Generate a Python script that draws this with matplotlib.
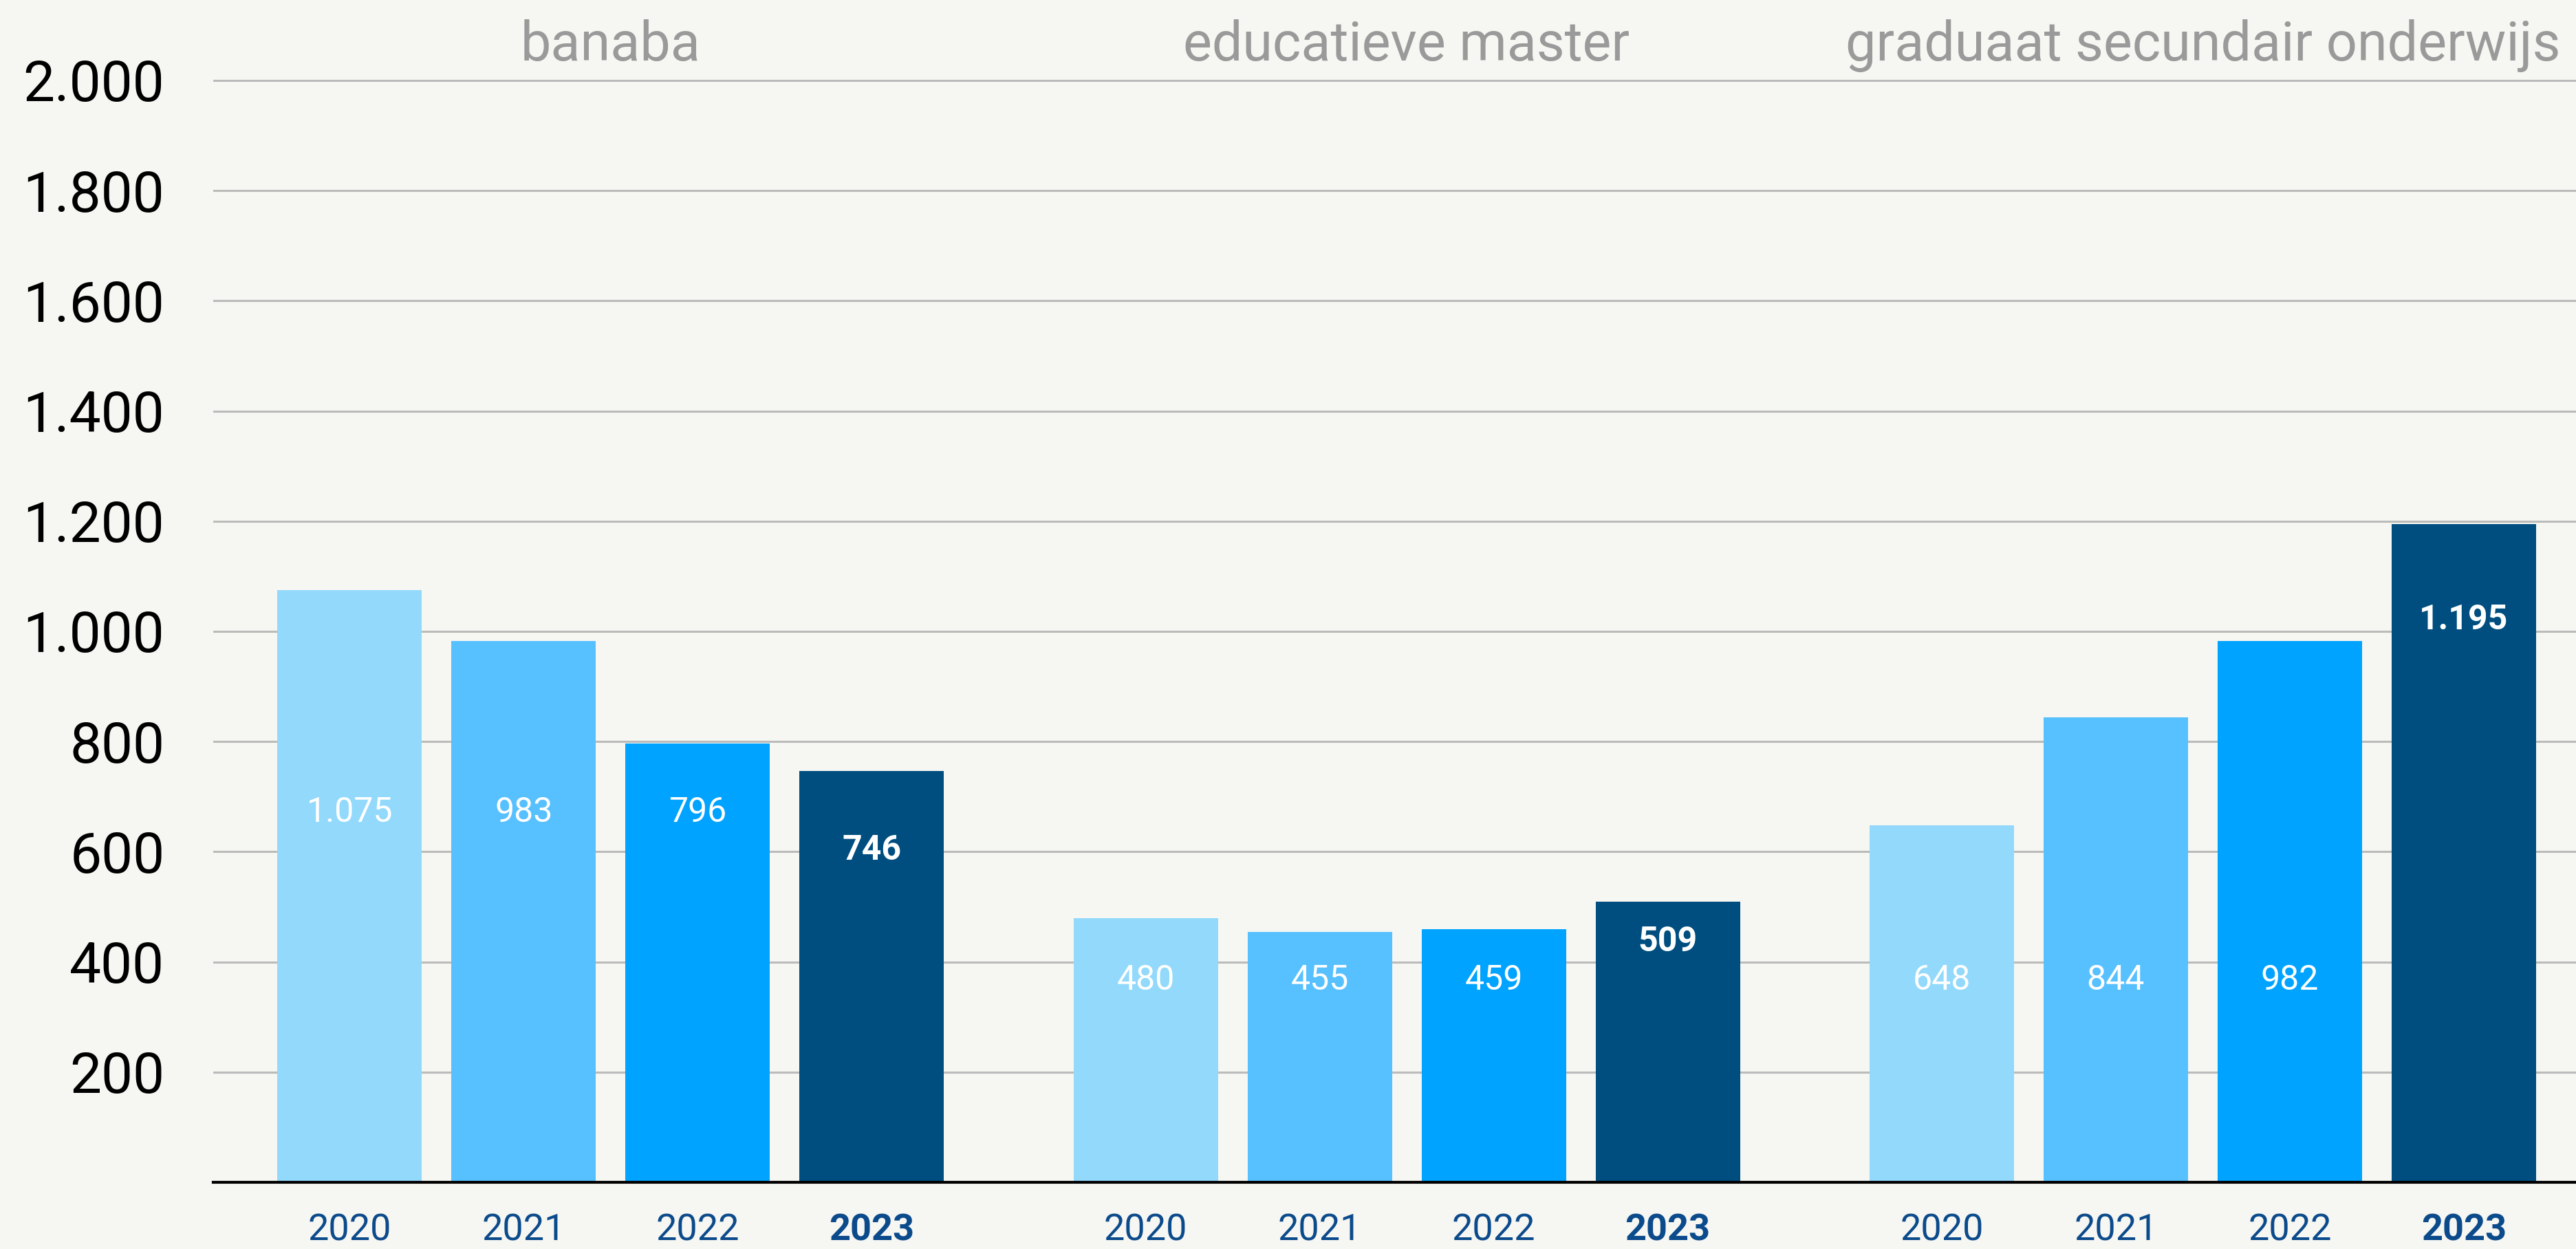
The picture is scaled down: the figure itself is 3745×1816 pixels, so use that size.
import matplotlib
matplotlib.use("Agg")
import matplotlib.pyplot as plt
from matplotlib.ticker import FuncFormatter

# data
groups = ["banaba", "educatieve master", "graduaat secundair onderwijs"]
years = ["2020", "2021", "2022", "2023"]
banaba = [1075, 983, 796, 746]
educatieve_master = [480, 455, 459, 509]
graduaat = [648, 844, 982, 1195]
values = [banaba, educatieve_master, graduaat]

# where the value labels sit inside the bars (data units)
label_y = [[672, 672, 672, 603],
           [367, 367, 367, 436],
           [367, 367, 367, 1021]]

colors = ["#92D9FC", "#57C0FF", "#00A3FF", "#004E80"]
bg = "#F6F6F2"

plt.rcParams["font.family"] = ["Roboto", "DejaVu Sans"]

fig = plt.figure(figsize=(37.45, 18.16), dpi=100)
fig.patch.set_facecolor(bg)
ax = fig.add_axes([0.0828, 0.0534, 1 - 0.0828, 1 - 0.0534])
ax.set_facecolor(bg)

group_step = 4.575
width = 0.83

xticks, xlabels = [], []
for g, (name, vals) in enumerate(zip(groups, values)):
    xs = [g * group_step + i for i in range(len(years))]
    ax.bar(xs, vals, width=width, color=colors, zorder=3)
    for i, (x, v) in enumerate(zip(xs, vals)):
        last = i == len(years) - 1
        txt = f"{v:,}".replace(",", ".")
        ax.text(x, label_y[g][i], txt, ha="center", va="center",
                color="white", fontsize=36,
                fontweight="bold" if last else "normal", zorder=4)
    ax.text(g * group_step + 1.5, 2036, name, ha="center", va="baseline",
            color="#9A9A9A", fontsize=57, fontweight="normal")
    xticks += xs
    xlabels += years

ax.set_xlim(-0.784, 12.795)
ax.set_ylim(0, 2146)

ax.set_yticks(range(200, 2001, 200))
ax.yaxis.set_major_formatter(FuncFormatter(lambda v, p: f"{int(v):,}".replace(",", ".")))
ax.tick_params(axis="y", length=0, pad=51, labelsize=59, labelcolor="black")
ax.grid(axis="y", color="#BBBBBB", linewidth=2.2, zorder=0)

ax.set_xticks(xticks)
ax.set_xticklabels(xlabels)
ax.tick_params(axis="x", length=0, pad=32, labelsize=39, labelcolor="#0B4A8B")
for i, lab in enumerate(ax.get_xticklabels()):
    if i % 4 == 3:
        lab.set_fontweight("bold")

for s in ["top", "right", "left"]:
    ax.spines[s].set_visible(False)
ax.spines["bottom"].set_color("black")
ax.spines["bottom"].set_linewidth(3)
ax.spines["bottom"].set_zorder(5)

fig.savefig("out.png", dpi=100, facecolor=bg)
